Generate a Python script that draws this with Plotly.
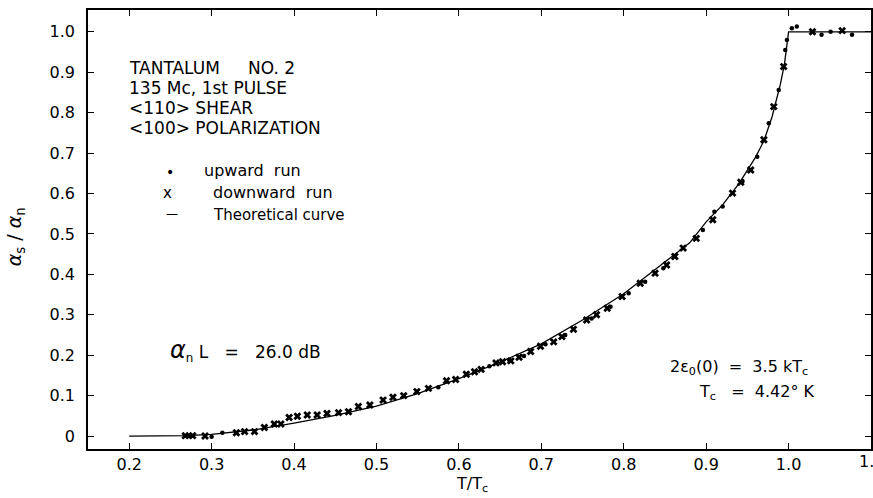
import plotly.graph_objects as go

# Theoretical curve
theory_t = [0.20, 0.25, 0.27, 0.30, 0.35, 0.40, 0.45, 0.50, 0.55, 0.60, 0.65, 0.70, 0.75,
            0.80, 0.85, 0.88, 0.90, 0.92, 0.94, 0.96, 0.97, 0.98, 0.99, 0.995, 1.0, 1.1]
theory_y = [0.0, 0.0, 0.001, 0.004, 0.015, 0.032, 0.051, 0.074, 0.105, 0.142, 0.183, 0.228, 0.287,
            0.352, 0.43, 0.478, 0.53, 0.572, 0.625, 0.69, 0.73, 0.79, 0.87, 0.92, 1.0, 1.0]

# downward run (x)
down_t = [0.268, 0.277, 0.292, 0.330, 0.340, 0.352, 0.364, 0.376, 0.384, 0.394, 0.404, 0.416,
          0.428, 0.440, 0.454, 0.466, 0.478, 0.492, 0.508, 0.520, 0.533, 0.549, 0.563, 0.585,
          0.596, 0.609, 0.619, 0.627, 0.645, 0.653, 0.663, 0.673, 0.687, 0.699, 0.715, 0.725,
          0.739, 0.755, 0.767, 0.780, 0.798, 0.820, 0.838, 0.852, 0.862, 0.872, 0.888, 0.908,
          0.932, 0.942, 0.954, 0.970, 0.982, 0.994, 1.029, 1.065]
down_y = [0.001, 0.001, 0.0, 0.008, 0.011, 0.011, 0.021, 0.030, 0.030, 0.046, 0.049, 0.052,
          0.052, 0.056, 0.058, 0.060, 0.073, 0.077, 0.089, 0.096, 0.100, 0.110, 0.118, 0.137,
          0.140, 0.153, 0.159, 0.165, 0.181, 0.184, 0.186, 0.195, 0.209, 0.222, 0.233, 0.246,
          0.264, 0.287, 0.300, 0.316, 0.345, 0.378, 0.403, 0.423, 0.444, 0.465, 0.489, 0.535,
          0.601, 0.628, 0.658, 0.733, 0.815, 0.914, 1.0, 1.003]

# upward run (dots)
up_t = [0.273, 0.300, 0.313, 0.575, 0.637, 0.661, 0.679, 0.705, 0.729, 0.761, 0.784, 0.806,
        0.826, 0.848, 0.896, 0.910, 0.920, 0.944, 0.962, 0.976, 0.988, 0.996, 0.998, 1.004,
        1.010, 1.040, 1.051, 1.077]
up_y = [0.0, -0.002, 0.008, 0.121, 0.173, 0.188, 0.198, 0.227, 0.250, 0.291, 0.320, 0.353,
        0.382, 0.415, 0.510, 0.555, 0.568, 0.630, 0.691, 0.774, 0.856, 0.955, 0.980, 1.009,
        1.013, 0.993, 1.0, 0.993]

x_ticks = [0.2, 0.3, 0.4, 0.5, 0.6, 0.7, 0.8, 0.9, 1.0, 1.1]
x_ticklabels = ["0.2", "0.3", "0.4", "0.5", "0.6", "0.7", "0.8", "0.9", "1.0", "1.1"]
y_ticks = [0, 0.1, 0.2, 0.3, 0.4, 0.5, 0.6, 0.7, 0.8, 0.9, 1.0]
y_ticklabels = ["0", "0.1", "0.2", "0.3", "0.4", "0.5", "0.6", "0.7", "0.8", "0.9", "1.0"]

W, H = 873, 498
L, R, T, B = 88, 0, 10, 49
PW, PH = W - L - R, H - T - B
FONT = "DejaVu Sans"


def px(x):
    return (x - L) / PW


def py(y):
    return (H - B - y) / PH


fig = go.Figure()
fig.add_trace(go.Scatter(x=theory_t, y=theory_y, mode="lines",
                         line=dict(color="black", width=1.3), name="Theoretical curve"))
fig.add_trace(go.Scatter(x=down_t, y=down_y, mode="markers",
                         marker=dict(symbol="x", size=7, color="black"), name="downward run"))
fig.add_trace(go.Scatter(x=up_t, y=up_y, mode="markers",
                         marker=dict(symbol="circle", size=4.5, color="black"), name="upward run"))

axis_common = dict(showgrid=False, zeroline=False, showline=True, linecolor="black",
                   linewidth=1.5, mirror="ticks", ticks="inside", ticklen=6, tickwidth=1.3,
                   tickcolor="black", tickfont=dict(family=FONT, size=16, color="black"))

fig.update_xaxes(range=[0.15, 1.1], tickvals=x_ticks, ticktext=x_ticklabels, **axis_common)
fig.update_yaxes(range=[-0.032, 1.054], tickvals=y_ticks, ticktext=y_ticklabels,
                 ticklabelstandoff=8, **axis_common)

ann = []


def add(text, x, y, size=15, xanchor="left", yanchor="middle", angle=0):
    ann.append(dict(text=text, x=px(x), y=py(y), xref="paper", yref="paper",
                    xanchor=xanchor, yanchor=yanchor, showarrow=False, textangle=angle,
                    font=dict(family=FONT, size=size, color="black")))


add("TANTALUM", 127, 68, size=17)
add("NO. 2", 246, 68, size=17)
add("135 Mc, 1st PULSE", 127, 88, size=17)
add("&lt;110&gt; SHEAR", 127, 108, size=17)
add("&lt;100&gt; POLARIZATION", 127, 128, size=17)

add("•", 170, 172, size=14, xanchor="center")
add("upward&nbsp;&nbsp;run", 202, 171, size=16)
add("x", 168, 193, size=15, xanchor="center")
add("downward&nbsp;&nbsp;run", 211, 192, size=16)
add("—", 172, 214, size=12, xanchor="center")
add("Theoretical curve", 211, 215, size=15)

add("<span style='font-size:24px'><i>α</i></span><sub>n</sub> L&nbsp;&nbsp;&nbsp;=&nbsp;&nbsp;&nbsp;26.0 dB",
    168, 350, size=17)
add("2ε<sub>0</sub>(0)&nbsp;&nbsp;=&nbsp;&nbsp;3.5 kT<sub>c</sub>", 812, 367, size=16, xanchor="right")
add("T<sub>c</sub>&nbsp;&nbsp;&nbsp;=&nbsp;&nbsp;4.42° K", 818, 392, size=16, xanchor="right")

add("1.1", 874, 461, size=16, xanchor="center")
add("T/T<sub>c</sub>", 473, 484, size=16, xanchor="center")
add("<i>α</i><sub>s</sub> / <i>α</i><sub>n</sub>", 15, 237, size=19, xanchor="center", angle=-90)

fig.update_layout(width=W, height=H, margin=dict(l=L, r=R, t=T, b=B),
                  plot_bgcolor="white", paper_bgcolor="white", showlegend=False,
                  annotations=ann)

fig.write_html("out.html")
